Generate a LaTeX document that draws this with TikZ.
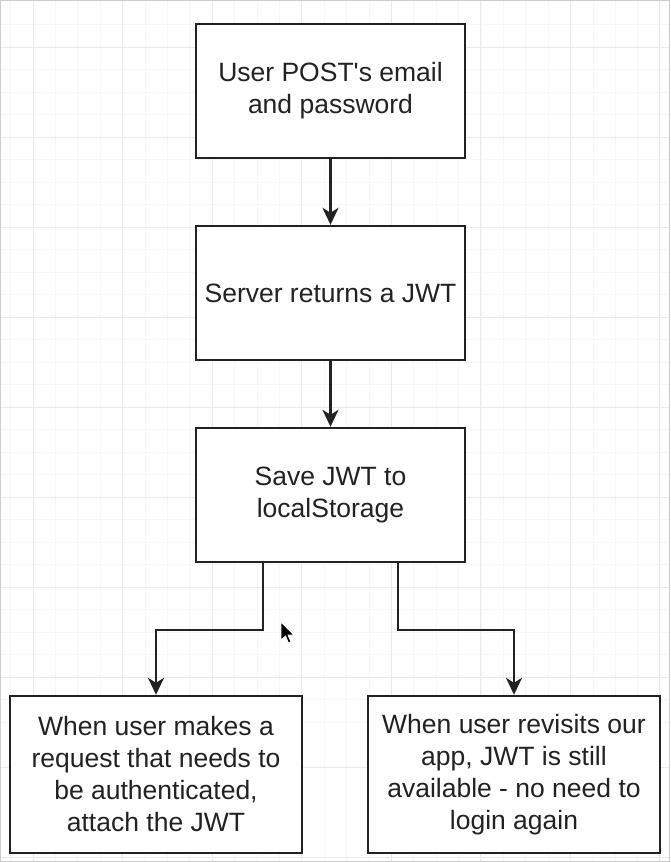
\documentclass[tikz,border=0pt]{standalone}
\usepackage{fontspec}
\setmainfont{Liberation Sans}[Ligatures=TeXOff]
\usetikzlibrary{arrows.meta}
\definecolor{ink}{HTML}{222222}
\definecolor{gridmaj}{HTML}{EAEAEA}
\definecolor{gridmin}{HTML}{F7F7F7}
\tikzset{
  stepbox/.style={draw=ink, line width=2.4pt, fill=white, align=center, text=ink,
    font=\fontsize{26.5}{32}\selectfont, inner sep=0pt},
  arr/.style={draw=ink, line width=2.4pt, -{Stealth[length=17pt,width=16pt,inset=5pt]}},
}
\begin{document}
\begin{tikzpicture}[x=1pt,y=-1pt]
\useasboundingbox (0,0) rectangle (670,862);
\fill[white] (0,0) rectangle (670,862);
% minor grid
\foreach \i in {-1,...,30} {
  \draw[gridmin, line width=0.8pt] ({33+22.4*\i},0) -- ({33+22.4*\i},862);
  \draw[gridmin, line width=0.8pt] (0,{47+22.5*\i}) -- (670,{47+22.5*\i});
}
% major grid
\foreach \i in {0,...,7} {
  \draw[gridmaj, line width=1pt] ({33+89.5*\i},0) -- ({33+89.5*\i},862);
}
\foreach \i in {0,...,9} {
  \draw[gridmaj, line width=1pt] (0,{47+90*\i}) -- (670,{47+90*\i});
}
\draw[gray!40, line width=1.2pt] (0.6,0.6) rectangle (669.4,861.4);

\node[stepbox, minimum width=269pt, minimum height=134pt] (b1) at (330.5,91)
  {\raisebox{-4pt}{\begin{tabular}{@{}c@{}}User POST's email\\and password\end{tabular}}};
\node[stepbox, minimum width=269pt, minimum height=134pt] (b2) at (330.5,293)
  {Server returns a JWT};
\node[stepbox, minimum width=269pt, minimum height=134pt] (b3) at (330.5,495)
  {\raisebox{-3pt}{\begin{tabular}{@{}c@{}}Save JWT to\\localStorage\end{tabular}}};
\node[stepbox, minimum width=292pt, minimum height=157pt] (b4) at (156,774.5)
  {When user makes a\\request that needs to\\be authenticated,\\attach the JWT};
\node[stepbox, minimum width=292pt, minimum height=157pt] (b5) at (514,774.5)
  {When user revisits our\\app, JWT is still\\available - no need to\\login again};

\draw[arr] (b1) -- (b2);
\draw[arr] (b2) -- (b3);
\draw[arr] ([xshift=-67.5pt]b3.south) -- ++(0,67) -| (b4.north);
\draw[arr] ([xshift=67.5pt]b3.south) -- ++(0,67) -| (b5.north);

% mouse cursor
\filldraw[fill=black, draw=white, line width=0.8pt]
  (281,622) -- (281,640) -- (285.5,636) -- (288.5,643) -- (291,642) -- (288,635) -- (294,635) -- cycle;
\end{tikzpicture}
\end{document}
